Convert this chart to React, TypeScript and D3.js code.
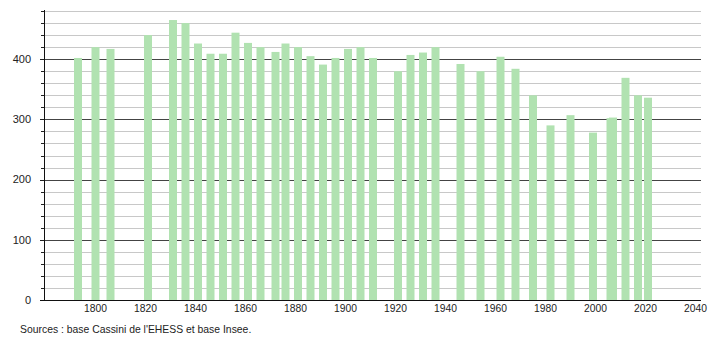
import React from "react";
import * as d3 from "d3";

const years = [1793, 1800, 1806, 1821, 1831, 1836, 1841, 1846, 1851, 1856, 1861, 1866, 1872, 1876, 1881, 1886, 1891, 1896, 1901, 1906, 1911, 1921, 1926, 1931, 1936, 1946, 1954, 1962, 1968, 1975, 1982, 1990, 1999, 2006, 2007, 2012, 2017, 2021];
const population = [402, 420, 417, 440, 465, 460, 426, 409, 409, 444, 427, 420, 412, 426, 420, 405, 391, 402, 417, 420, 402, 380, 407, 411, 420, 392, 380, 404, 384, 340, 290, 307, 278, 302, 303, 369, 340, 336];
const xTicks = [1800, 1820, 1840, 1860, 1880, 1900, 1920, 1940, 1960, 1980, 2000, 2020, 2040];
const yMajor = [0, 100, 200, 300, 400];
const yGrid = d3.range(20, 500, 20);
const source = "Sources : base Cassini de l'EHESS et base Insee.";

const W = 710;
const H = 340;
const left = 44;
const right = 701;
const top = 11;
const bottom = 300;

export default function App() {
  const x = d3.scaleLinear().domain([1780, 2040]).range([45.5, 695.5]);
  const y = d3.scaleLinear().domain([0, 480]).range([bottom, top]);
  const barW = 8;
  const font = "'Liberation Sans', Arial, Helvetica, sans-serif";
  return (
    <div style={{ position: "absolute", left: 0, top: 0 }}>
      <svg width={W} height={H} style={{ display: "block", background: "#fff" }}>
        {yGrid.map((v) => (
          <line
            key={"g" + v}
            x1={left}
            x2={right}
            y1={Math.round(y(v)) + 0.5}
            y2={Math.round(y(v)) + 0.5}
            stroke={v % 100 === 0 ? "#444" : "#c8c8c8"}
            strokeWidth={1}
          />
        ))}
        {yGrid.map((v) => (
          <line
            key={"t" + v}
            x1={left - (v % 100 === 0 ? 4 : 3)}
            x2={left}
            y1={Math.round(y(v)) + 0.5}
            y2={Math.round(y(v)) + 0.5}
            stroke="#222"
          />
        ))}
        {years.map((yr, i) => (
          <rect
            key={"b" + yr}
            x={x(yr) - barW / 2}
            y={y(population[i])}
            width={barW}
            height={y(0) - y(population[i])}
            fill="#b1e2b1"
          />
        ))}
        <line x1={left + 0.5} x2={left + 0.5} y1={top - 1} y2={bottom + 1} stroke="#111" strokeWidth={1} />
        <line x1={left - 4} x2={right} y1={bottom + 0.5} y2={bottom + 0.5} stroke="#111" strokeWidth={1} />
        {yMajor.map((v) => (
          <text
            key={"yl" + v}
            x={31}
            y={y(v)}
            dy="0.35em"
            textAnchor="end"
            fontFamily={font}
            fontSize={11}
            fill="#222"
          >
            {v}
          </text>
        ))}
        {xTicks.map((t) => (
          <text
            key={"xl" + t}
            x={x(t)}
            y={312}
            textAnchor="middle"
            fontFamily={font}
            fontSize={10.3}
            fill="#222"
          >
            {t}
          </text>
        ))}
        <text x={20} y={333} fontFamily={font} fontSize={10.4} fill="#222">
          {source}
        </text>
      </svg>
    </div>
  );
}
